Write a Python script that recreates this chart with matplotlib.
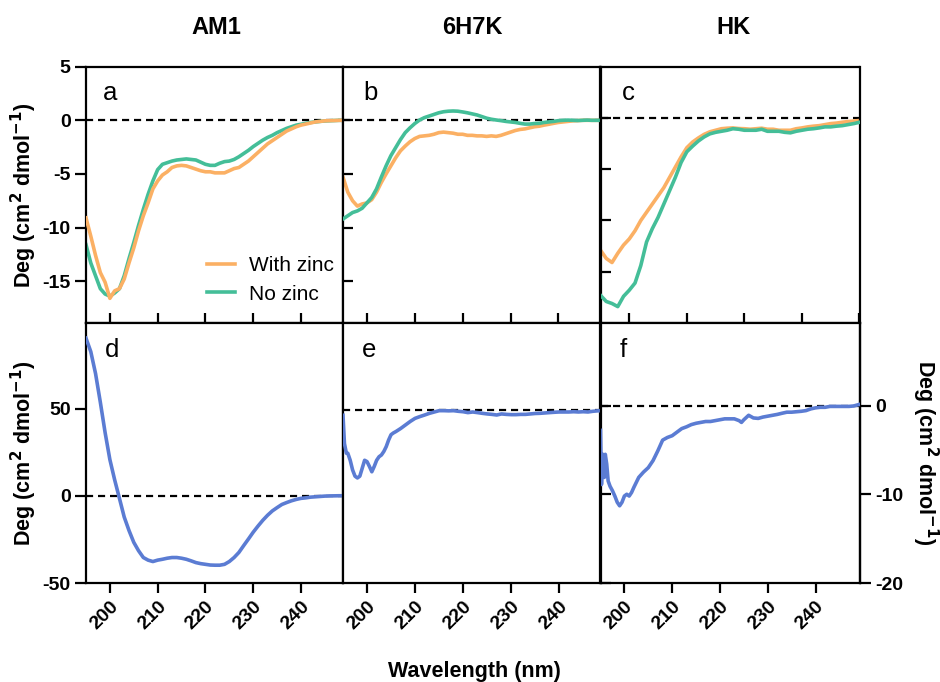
import matplotlib
matplotlib.use("Agg")
import matplotlib.pyplot as plt
from matplotlib.lines import Line2D

plt.rcParams['font.family'] = ['Liberation Sans', 'DejaVu Sans']
plt.rcParams['axes.unicode_minus'] = False

# ---------------- data ----------------
wl = list(range(195, 250))          # 195 ... 249 nm
wl_c = list(range(195, 241))        # 195 ... 240 nm

titles = ["AM1", "6H7K", "HK"]
series_labels = ["With zinc", "No zinc"]
x_ticks = [200, 210, 220, 230, 240]

a_with = [-9.1, -10.8, -12.6, -14.2, -15.1, -16.6, -15.9, -15.7, -14.8, -13.3,
          -11.9, -10.3, -8.9, -7.7, -6.4, -5.65, -5.1, -4.8, -4.4, -4.25,
          -4.2, -4.25, -4.4, -4.55, -4.7, -4.8, -4.8, -4.9, -4.9, -4.9,
          -4.7, -4.5, -4.4, -4.1, -3.8, -3.4, -3.0, -2.6, -2.2, -1.9,
          -1.6, -1.3, -1.0, -0.8, -0.6, -0.45, -0.35, -0.25, -0.15, -0.1,
          -0.05, -0.03, -0.02, 0.0, 0.0]
a_no = [-11.6, -13.3, -14.5, -15.7, -16.2, -16.4, -16.1, -15.7, -14.5, -12.9,
        -11.4, -9.8, -8.3, -6.9, -5.65, -4.6, -4.1, -3.95, -3.8, -3.7,
        -3.65, -3.6, -3.65, -3.7, -3.9, -4.1, -4.2, -4.2, -4.0, -3.85,
        -3.8, -3.65, -3.4, -3.1, -2.8, -2.45, -2.15, -1.85, -1.6, -1.4,
        -1.15, -0.95, -0.75, -0.6, -0.45, -0.37, -0.28, -0.2, -0.15, -0.1,
        -0.06, -0.04, -0.02, 0.0, 0.0]

b_with = [-5.3, -6.7, -7.5, -8.0, -7.8, -7.7, -7.4, -6.7, -5.8, -5.0,
          -4.25, -3.5, -2.85, -2.4, -2.0, -1.7, -1.5, -1.45, -1.4, -1.3,
          -1.15, -1.1, -1.15, -1.2, -1.3, -1.3, -1.4, -1.4, -1.45, -1.45,
          -1.5, -1.45, -1.5, -1.4, -1.25, -1.1, -0.95, -0.85, -0.8, -0.7,
          -0.6, -0.55, -0.45, -0.37, -0.28, -0.2, -0.15, -0.1, -0.05, -0.03,
          0.0, 0.0, 0.0, 0.0, 0.0]
b_no = [-9.2, -8.9, -8.6, -8.45, -8.2, -7.7, -7.2, -6.4, -5.3, -4.25,
        -3.3, -2.55, -1.8, -1.15, -0.7, -0.3, 0.03, 0.25, 0.4, 0.55,
        0.7, 0.8, 0.85, 0.87, 0.85, 0.78, 0.7, 0.6, 0.5, 0.35,
        0.2, 0.1, 0.03, -0.03, -0.1, -0.15, -0.2, -0.28, -0.35, -0.35,
        -0.3, -0.28, -0.2, -0.15, -0.1, -0.03, 0.0, 0.02, 0.0, -0.02,
        0.0, 0.02, 0.0, 0.0, 0.0]

c_with = [-12.9, -13.7, -14.1, -13.2, -12.4, -11.8, -11.0, -10.0, -9.2, -8.4,
          -7.6, -6.8, -5.8, -4.8, -3.8, -2.9, -2.35, -1.95, -1.6, -1.35,
          -1.2, -1.05, -1.0, -0.97, -1.03, -1.05, -1.1, -1.05, -1.0, -1.1,
          -1.1, -1.2, -1.2, -1.2, -1.05, -0.97, -0.87, -0.8, -0.75, -0.65,
          -0.55, -0.5, -0.42, -0.35, -0.3, -0.25]
c_no = [-17.3, -17.9, -18.1, -18.4, -17.4, -16.8, -16.1, -14.4, -12.1, -10.8,
        -9.7, -8.4, -7.1, -5.8, -4.35, -3.3, -2.75, -2.25, -1.85, -1.55,
        -1.4, -1.3, -1.2, -1.05, -1.1, -1.2, -1.2, -1.2, -1.1, -1.3,
        -1.3, -1.3, -1.4, -1.45, -1.3, -1.2, -1.1, -1.05, -0.97, -0.87,
        -0.87, -0.8, -0.75, -0.65, -0.55, -0.42]

d_vals = [90.3, 82.6, 70.0, 53.6, 36.2, 20.7, 9.1, -1.5, -12.2, -19.9,
          -26.7, -31.5, -35.4, -36.9, -37.7, -36.9, -36.4, -35.8, -35.4, -35.4,
          -35.8, -36.4, -37.3, -38.3, -38.9, -39.3, -39.7, -39.8, -39.8, -39.3,
          -37.7, -35.4, -32.5, -28.6, -24.8, -20.9, -17.4, -14.1, -11.2, -8.7,
          -6.8, -5.0, -3.9, -2.9, -2.1, -1.5, -1.2, -0.8, -0.6, -0.4,
          -0.2, -0.1, -0.05, 0.0, 0.0]

e_wl = [195, 195.3, 195.7, 196, 196.5, 197, 197.5, 198, 198.5, 199,
        199.5, 200, 200.5, 201, 201.5, 202, 202.5, 203, 203.5, 204,
        204.5, 205, 205.5, 206, 207, 208, 209, 210, 211, 212,
        213, 214, 215, 216, 217, 218, 219, 220, 221, 222,
        223, 224, 225, 226, 227, 228, 229, 230, 231, 232,
        233, 234, 235, 236, 237, 238, 239, 240, 241, 242,
        243, 244, 245, 246, 247, 248, 248.6]
e_vals = [-0.6, -3.8, -4.9, -4.9, -5.7, -6.8, -7.5, -7.7, -7.5, -6.6,
          -5.7, -5.85, -6.4, -7.0, -6.4, -5.7, -5.3, -5.1, -4.7, -4.15,
          -3.4, -2.8, -2.6, -2.45, -2.1, -1.7, -1.3, -0.95, -0.75, -0.57,
          -0.38, -0.23, -0.08, -0.08, -0.1, -0.08, -0.15, -0.2, -0.3, -0.23,
          -0.3, -0.38, -0.45, -0.5, -0.57, -0.45, -0.5, -0.53, -0.53, -0.5,
          -0.5, -0.45, -0.4, -0.38, -0.34, -0.3, -0.26, -0.23, -0.23, -0.23,
          -0.2, -0.23, -0.2, -0.23, -0.15, -0.1, -0.08]

f_wl = [195, 195.2, 195.5, 195.8, 196, 196.3, 196.6, 197, 197.5, 198,
        198.5, 199, 199.5, 200, 200.5, 201, 201.5, 202, 203, 204,
        205, 206, 207, 208, 209, 210, 211, 212, 213, 214,
        215, 216, 217, 218, 219, 220, 221, 222, 223, 224,
        224.5, 225, 226, 227, 228, 229, 230, 231, 232, 233,
        234, 235, 236, 237, 238, 239, 240, 241, 242, 243,
        244, 245, 246, 247, 248, 249]
f_vals = [-2.8, -8.9, -5.5, -8.1, -5.5, -6.6, -8.5, -9.1, -9.6, -10.2,
          -10.9, -11.3, -10.9, -10.2, -10.0, -10.2, -9.8, -9.2, -8.1, -7.5,
          -7.0, -6.2, -5.1, -3.9, -3.6, -3.4, -3.0, -2.6, -2.4, -2.15,
          -2.0, -1.9, -1.8, -1.8, -1.7, -1.6, -1.5, -1.5, -1.5, -1.7,
          -1.9, -1.6, -1.1, -1.4, -1.45, -1.3, -1.2, -1.1, -1.0, -0.87,
          -0.75, -0.75, -0.7, -0.65, -0.57, -0.38, -0.26, -0.2, -0.2, -0.1,
          -0.1, -0.1, -0.1, -0.1, -0.05, 0.1]

# ---------------- style ----------------
C_WITH = '#FBB064'
C_NO = '#44BE98'
C_BLUE = '#5B7CD3'
LW = 2.6
SP = 1.6
TICK_FS = 14
LAB_FS = 15.5

W, H = 940, 682
fig = plt.figure(figsize=(W / 100, H / 100), dpi=100)


def rect(l, t, r, b):
    return [l / W, 1 - b / H, (r - l) / W, (b - t) / H]


ax_a = fig.add_axes(rect(86, 66.7, 343, 323))
ax_b = fig.add_axes(rect(343, 66.7, 600.5, 323))
ax_c = fig.add_axes(rect(600.5, 66.7, 859.5, 323))
ax_d = fig.add_axes(rect(86, 323, 343, 583))
ax_e = fig.add_axes(rect(343, 323, 600.5, 583))
ax_f = fig.add_axes(rect(600.5, 323, 859.5, 583))

for ax in [ax_a, ax_b, ax_c, ax_d, ax_e, ax_f]:
    for s in ax.spines.values():
        s.set_linewidth(SP)
    ax.axhline(0, color='black', lw=1.6, ls=(0, (3.2, 2.2)), zorder=1)
    ax.tick_params(width=SP, length=7, labelsize=TICK_FS)
    ax.set_xticks(x_ticks)

# top row
ax_a.plot(wl, a_with, color=C_WITH, lw=LW, zorder=3)
ax_a.plot(wl, a_no, color=C_NO, lw=LW, zorder=2)
ax_b.plot(wl, b_with, color=C_WITH, lw=LW, zorder=2)
ax_b.plot(wl, b_no, color=C_NO, lw=LW, zorder=3)
ax_c.plot(wl_c, c_with, color=C_WITH, lw=LW, zorder=2)
ax_c.plot(wl_c, c_no, color=C_NO, lw=LW, zorder=3)

for ax in [ax_a, ax_b]:
    ax.set_xlim(195, 248.8)
    ax.set_ylim(-18.9, 5)
ax_c.set_xlim(195, 240)
ax_c.set_ylim(-20, 5)

for ax in [ax_a, ax_b, ax_c]:
    ax.tick_params(axis='x', direction='in', labelbottom=False)

ax_a.set_yticks([5, 0, -5, -10, -15])
ax_a.tick_params(axis='y', direction='out', length=8, pad=3)
ax_b.set_yticks([0, -5, -10, -15])
ax_b.tick_params(axis='y', direction='in', labelleft=False)
ax_c.set_yticks([0, -5, -10, -15])
ax_c.tick_params(axis='y', direction='in', labelleft=False)

# bottom row
ax_d.plot(wl, d_vals, color=C_BLUE, lw=LW, zorder=3)
ax_e.plot(e_wl, e_vals, color=C_BLUE, lw=LW, zorder=3)
ax_f.plot(f_wl, f_vals, color=C_BLUE, lw=LW, zorder=3)

ax_d.set_xlim(195, 248.8)
ax_d.set_ylim(-50, 99)
ax_e.set_xlim(195, 248.6)
ax_e.set_ylim(-19.6, 9.85)
ax_f.set_xlim(195, 249.2)
ax_f.set_ylim(-20, 9.3)

ax_d.set_yticks([50, 0, -50])
ax_d.tick_params(axis='y', direction='out', length=8, pad=3)
ax_e.set_yticks([])
ax_f.set_yticks([0, -10, -20])
ax_f.tick_params(axis='y', direction='in', labelleft=False)
ax_fr = ax_f.secondary_yaxis('right')
ax_fr.set_yticks([0, -10, -20])
ax_fr.tick_params(width=SP, length=8, labelsize=TICK_FS, pad=3)
ax_fr.spines['right'].set_linewidth(SP)

for ax in [ax_d, ax_e, ax_f]:
    ax.tick_params(axis='x', direction='out', length=7, pad=4)
    for lbl in ax.get_xticklabels():
        lbl.set_rotation(45)
        lbl.set_ha('right')
        lbl.set_rotation_mode('anchor')

for ax in [ax_a, ax_b, ax_c, ax_d, ax_e, ax_f, ax_fr]:
    for lbl in ax.get_xticklabels() + ax.get_yticklabels():
        lbl.set_fontweight('bold')

# panel letters
for ax, letter, fx, fy in [(ax_a, 'a', 0.066, 0.87), (ax_b, 'b', 0.078, 0.87),
                           (ax_c, 'c', 0.082, 0.87), (ax_d, 'd', 0.074, 0.869),
                           (ax_e, 'e', 0.073, 0.869), (ax_f, 'f', 0.075, 0.869)]:
    ax.text(fx, fy, letter, transform=ax.transAxes, fontsize=18.5,
            ha='left', va='baseline')

# legend
handles = [Line2D([], [], color=C_WITH, lw=LW), Line2D([], [], color=C_NO, lw=LW)]
ax_a.legend(handles, series_labels, loc='upper left', bbox_to_anchor=(0.47, 0.26),
            frameon=False, fontsize=15, handlelength=1.35, handletextpad=0.7,
            labelspacing=0.45, borderpad=0, borderaxespad=0)

# titles & labels
for txt, x in zip(titles, [216, 472, 733]):
    fig.text(x / W, 1 - 27 / H, txt, ha='center', va='center',
             fontsize=17, fontweight='bold')

ylab = 'Deg (cm$^\\mathbf{2}$ dmol$^\\mathbf{-1}$)'
fig.text(24 / W, 1 - 195 / H, ylab, rotation=90, ha='center', va='center',
         fontsize=LAB_FS, fontweight='bold')
fig.text(24 / W, 1 - 453 / H, ylab, rotation=90, ha='center', va='center',
         fontsize=LAB_FS, fontweight='bold')
fig.text(925 / W, 1 - 453 / H, ylab, rotation=270, ha='center', va='center',
         fontsize=LAB_FS, fontweight='bold')
fig.text(474 / W, 1 - 671 / H, 'Wavelength (nm)', ha='center', va='center',
         fontsize=15.5, fontweight='bold')

fig.savefig('out.png', dpi=100)
